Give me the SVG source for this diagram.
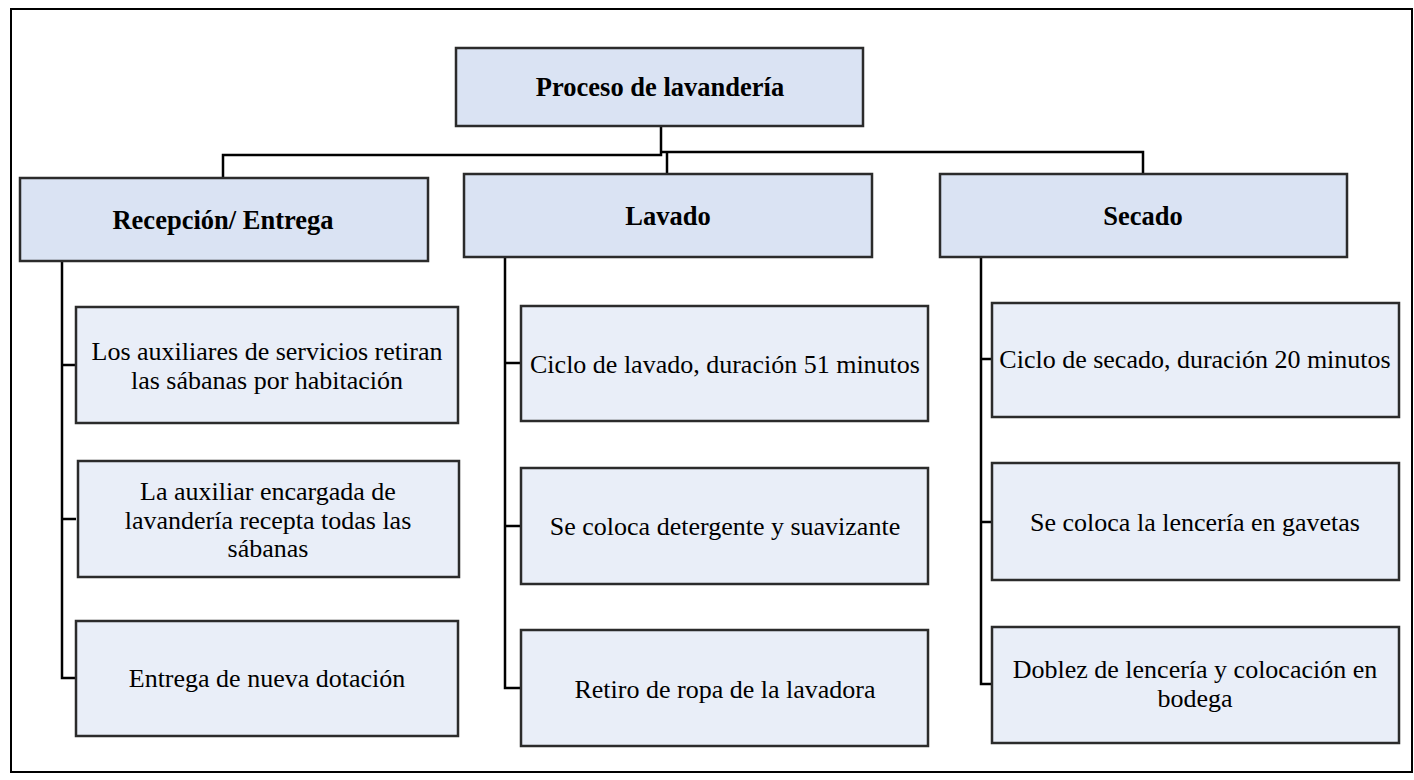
<svg xmlns="http://www.w3.org/2000/svg" width="1414" height="780" viewBox="0 0 1414 780">
<style>
.head rect{fill:#DAE3F3;stroke:#2b2b2b;stroke-width:2.5}
.child rect{fill:#E9EEF8;stroke:#2b2b2b;stroke-width:2.5}
text{font-family:'Liberation Serif','Times New Roman',Times,'DejaVu Serif',serif;fill:#000;text-anchor:middle}
.ht{font-weight:bold;font-size:26.5px}
.ct{font-size:26px}
.conn path{fill:none;stroke:#000;stroke-width:2.5}
</style>
<rect x="11" y="9" width="1401" height="763" fill="#fff" stroke="#000" stroke-width="2"/>
<g class="conn">
<path d="M661 126 V155 H223 V178"/>
<path d="M661 152 H1143 V174"/>
<path d="M667 152 V174"/>
<path d="M62 261 V678 H76 M62 365 H76 M62 519 H76"/>
<path d="M505 257 V688 H521 M505 363 H521 M505 526 H521"/>
<path d="M981 257 V684 H992 M981 359 H992 M981 522 H992"/>
</g>
<g id="root" class="head"><rect x="456" y="48" width="407" height="78"/><text class="ht" x="660" y="96">Proceso de lavandería</text></g>
<g id="recepcion" class="head"><rect x="20" y="178" width="408" height="83"/><text class="ht" x="223" y="229">Recepción/ Entrega</text></g>
<g id="lavado" class="head"><rect x="464" y="174" width="408" height="83"/><text class="ht" x="668" y="225">Lavado</text></g>
<g id="secado" class="head"><rect x="940" y="174" width="407" height="83"/><text class="ht" x="1143" y="225">Secado</text></g>
<g id="r1" class="child"><rect x="76" y="307" width="382" height="116"/><text class="ct" x="267" y="360">Los auxiliares de servicios retiran</text><text class="ct" x="267" y="389">las sábanas por habitación</text></g>
<g id="r2" class="child"><rect x="78" y="461" width="381" height="116"/><text class="ct" x="268" y="500">La auxiliar encargada de</text><text class="ct" x="268" y="528.5">lavandería recepta todas las</text><text class="ct" x="268" y="557">sábanas</text></g>
<g id="r3" class="child"><rect x="76" y="621" width="382" height="115"/><text class="ct" x="267" y="687">Entrega de nueva dotación</text></g>
<g id="l1" class="child"><rect x="521" y="306" width="407" height="115"/><text class="ct" x="725" y="373">Ciclo de lavado, duración 51 minutos</text></g>
<g id="l2" class="child"><rect x="521" y="468" width="407" height="116"/><text class="ct" x="725" y="535">Se coloca detergente y suavizante</text></g>
<g id="l3" class="child"><rect x="521" y="630" width="407" height="116"/><text class="ct" x="725" y="698">Retiro de ropa de la lavadora</text></g>
<g id="s1" class="child"><rect x="992" y="303" width="407" height="114"/><text class="ct" x="1195" y="368">Ciclo de secado, duración 20 minutos</text></g>
<g id="s2" class="child"><rect x="992" y="463" width="407" height="117"/><text class="ct" x="1195" y="531">Se coloca la lencería en gavetas</text></g>
<g id="s3" class="child"><rect x="992" y="627" width="407" height="116"/><text class="ct" x="1195" y="678">Doblez de lencería y colocación en</text><text class="ct" x="1195" y="707">bodega</text></g>
</svg>
